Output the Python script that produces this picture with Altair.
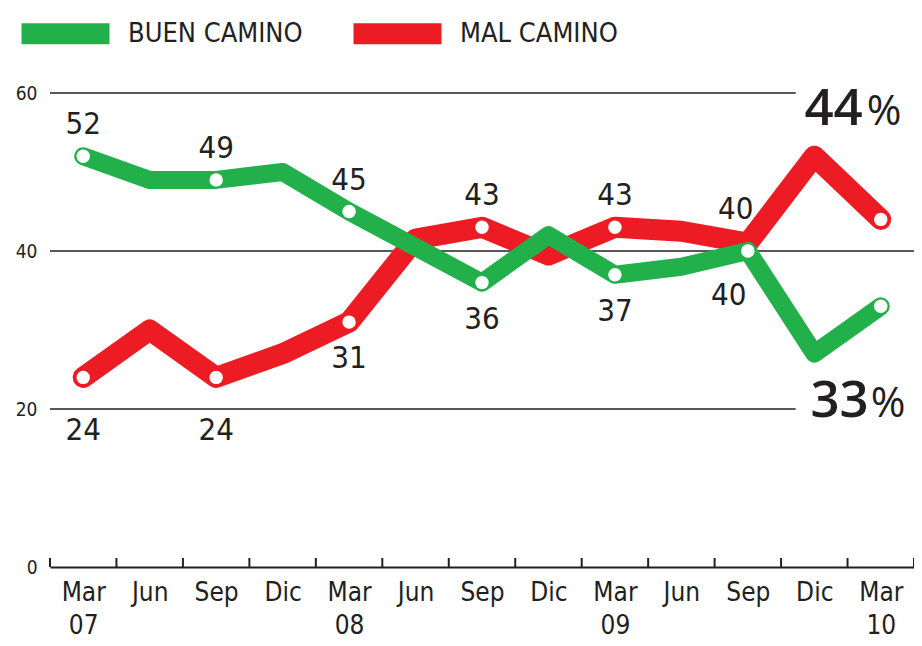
import altair as alt
import pandas as pd

# ---------------- data ----------------
months = ["Mar", "Jun", "Sep", "Dic", "Mar", "Jun", "Sep", "Dic", "Mar", "Jun", "Sep", "Dic", "Mar"]
years = ["07", "", "", "", "08", "", "", "", "09", "", "", "", "10"]
series = ["BUEN CAMINO", "MAL CAMINO"]
buen = [52, 49, 49, 50, 45, 40.5, 36, 42, 37, 38, 40, 27, 33]
mal = [24, 30, 24, 27, 31, 41.5, 43, 39.5, 43, 42.5, 41, 52, 44]
buen_labels = ["52", "", "49", "", "45", "", "36", "", "37", "", "40", "", ""]
mal_labels = ["24", "", "24", "", "31", "", "43", "", "43", "", "40", "", ""]
buen_place = ["above", "", "above", "", "above", "", "below", "", "below", "", "below_left", "", ""]
mal_place = ["below_far", "", "below_far", "", "below", "", "above", "", "above", "", "above_left", "", ""]
buen_circle = [1, 0, 1, 0, 1, 0, 1, 0, 1, 0, 1, 0, 1]
mal_circle = [1, 0, 1, 0, 1, 0, 1, 0, 1, 0, 0, 0, 1]
final_labels = ["44", "33"]
grid_values = [20, 40, 60]

# ---------------- style ----------------
GREEN = "#22b04b"
RED = "#ed1c24"
INK = "#231f20"
NARROW = "Liberation Sans Narrow, Arial Narrow, DejaVu Sans Condensed, sans-serif"
BIG = "Open Sans, Lato, sans-serif"
W, H = 864, 474
N = len(months)
XMIN, XMAX = -0.5, N - 0.5
SHORT_END = 10.72
LONG_END = XMAX + 0.12

rows = []
for s, vals, labs, places, circ in [
    (series[0], buen, buen_labels, buen_place, buen_circle),
    (series[1], mal, mal_labels, mal_place, mal_circle),
]:
    for i in range(N):
        rows.append({"series": s, "x": i, "y": vals[i], "label": labs[i],
                     "place": places[i], "circle": circ[i]})
df = pd.DataFrame(rows)

grid_df = pd.DataFrame({"y": grid_values,
                        "x": [XMIN] * 3,
                        "x1": [SHORT_END if v != 40 else LONG_END for v in grid_values]})
tick_df = pd.DataFrame({"x": [i - 0.5 for i in range(N + 1)], "y": [0] * (N + 1)})
ann_df = pd.DataFrame({"x": [N - 1, N - 1], "y": [60, 20], "num": final_labels,
                       "pct": ["%", "%"], "which": ["top", "bottom"]})

label_js = "[" + ",".join(
    "['%s','%s']" % (m, y) if y else "['%s']" % m for m, y in zip(months, years)
) + "][datum.value]"

xscale = alt.Scale(domain=[XMIN, XMAX], nice=False, zero=False)
yscale = alt.Scale(domain=[0, 60], nice=False, zero=True)
color_scale = alt.Scale(domain=series, range=[GREEN, RED])

x_axis = alt.Axis(values=list(range(N)), labelExpr=label_js, ticks=False, grid=False,
                  domain=True, domainColor=INK, domainWidth=2, title=None,
                  labelFont=NARROW, labelFontSize=26, labelColor=INK, labelPadding=12,
                  labelLineHeight=33, labelOverlap=False, labelFlush=False, labelBaseline="top")
y_axis = alt.Axis(values=[0] + grid_values, grid=False, ticks=False, domain=False,
                  title=None, labelFont=NARROW, labelFontSize=19, labelColor=INK, labelPadding=13)

X = alt.X("x:Q", scale=xscale, axis=x_axis, title=None)
Y = alt.Y("y:Q", scale=yscale, axis=y_axis, title=None)

legend = alt.Legend(orient="none", legendX=-39, legendY=-114, direction="horizontal", title=None,
                    symbolType="stroke", symbolSize=7744, symbolStrokeWidth=21, symbolOpacity=1,
                    labelFont=NARROW, labelFontSize=27, labelColor=INK, labelOffset=8,
                    labelLimit=400, columnPadding=8)

grid = alt.Chart(grid_df).mark_rule(color=INK, strokeWidth=1.6).encode(x=X, x2="x1:Q", y=Y)

ticks = alt.Chart(tick_df).mark_rule(color=INK, strokeWidth=2).encode(
    x=X, y=alt.value(H - 9), y2=alt.value(H)
)

base = alt.Chart(df).encode(x=X, y=Y)

red_line = base.transform_filter(alt.datum.series == series[1]).mark_line(
    strokeWidth=21, strokeCap="round", strokeJoin="round"
).encode(color=alt.Color("series:N", scale=color_scale, legend=legend))
green_line = base.transform_filter(alt.datum.series == series[0]).mark_line(
    strokeWidth=18, strokeCap="round", strokeJoin="round"
).encode(color=alt.Color("series:N", scale=color_scale, legend=legend))

red_pts = base.transform_filter(
    (alt.datum.series == series[1]) & (alt.datum.circle == 1)
).mark_point(filled=True, color="white", size=180, opacity=1)
green_pts = base.transform_filter(
    (alt.datum.series == series[0]) & (alt.datum.circle == 1)
).mark_point(filled=True, color="white", size=180, opacity=1)

offsets = {
    "above": dict(dx=0, dy=-22, baseline="alphabetic"),
    "below": dict(dx=0, dy=22, baseline="top"),
    "below_far": dict(dx=0, dy=39, baseline="top"),
    "below_left": dict(dx=-19, dy=30, baseline="top"),
    "above_left": dict(dx=-12, dy=-24, baseline="alphabetic"),
}
label_layers = []
for place, o in offsets.items():
    label_layers.append(
        base.transform_filter(alt.datum.place == place).mark_text(
            font=NARROW, fontSize=31, color=INK, align="center", **o
        ).encode(text="label:N")
    )

ann_base = alt.Chart(ann_df).encode(x=X, y=Y)
num_top = ann_base.transform_filter(alt.datum.which == "top").mark_text(
    font=BIG, fontSize=51, fontWeight=600, color=INK, align="right", baseline="alphabetic", dx=-18, dy=32
).encode(text="num:N")
pct_top = ann_base.transform_filter(alt.datum.which == "top").mark_text(
    font=BIG, fontSize=42, color=INK, align="left", baseline="alphabetic", dx=-14, dy=32
).encode(text="pct:N")
num_bot = ann_base.transform_filter(alt.datum.which == "bottom").mark_text(
    font=BIG, fontSize=51, fontWeight=600, color=INK, align="right", baseline="alphabetic", dx=-12, dy=8
).encode(text="num:N")
pct_bot = ann_base.transform_filter(alt.datum.which == "bottom").mark_text(
    font=BIG, fontSize=42, color=INK, align="left", baseline="alphabetic", dx=-10, dy=8
).encode(text="pct:N")

chart = alt.layer(
    grid, ticks, red_line, red_pts, green_line, green_pts, *label_layers,
    num_top, pct_top, num_bot, pct_bot
).properties(
    width=W, height=H,
    background="white",
    autosize=alt.AutoSizeParams(type="none"),
    padding={"left": 42, "top": 85, "right": 0, "bottom": 71},
).configure_view(stroke=None)

chart.save("out.html", embed_options={"renderer": "svg", "actions": False})
